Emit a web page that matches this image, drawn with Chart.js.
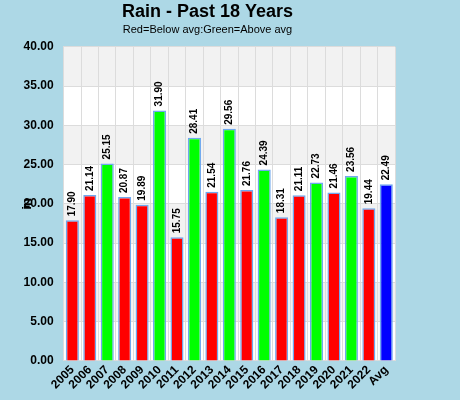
<!DOCTYPE html>
<html><head>
<script src="https://cdn.jsdelivr.net/npm/chart.js@4"></script>
<style>body{margin:0;background:#add8e6}#w{width:460px;height:400px}</style>
</head><body><div id="w"><canvas id="c"></canvas></div>
<script>
const years = ['2005','2006','2007','2008','2009','2010','2011','2012','2013','2014','2015','2016','2017','2018','2019','2020','2021','2022','Avg'];
const rain = [17.90,21.14,25.15,20.87,19.89,31.90,15.75,28.41,21.54,29.56,21.76,24.39,18.31,21.11,22.73,21.46,23.56,19.44,22.49];
const avg = 22.49;
const colors = rain.map((v,i) => i == rain.length-1 ? '#0000ff' : (v < avg ? '#ff0000' : '#00ff00'));
const F = 'Liberation Sans, Arial, sans-serif';

const deco = {
  id: 'deco',
  beforeDraw(ch) {
    const c = ch.ctx, a = ch.chartArea, y = ch.scales.y;
    c.save();
    c.fillStyle = '#add8e6';
    c.fillRect(0, 0, ch.width, ch.height);
    for (let v = 0; v < 40; v += 5) {
      c.fillStyle = (v / 5) % 2 ? '#f2f2f2' : '#ffffff';
      c.fillRect(a.left, y.getPixelForValue(v + 5), a.right - a.left, y.getPixelForValue(v) - y.getPixelForValue(v + 5));
    }
    c.restore();
  },
  afterDatasetsDraw(ch) {
    const c = ch.ctx;
    c.save();
    c.font = 'bold 10px ' + F;
    c.fillStyle = '#000';
    c.textAlign = 'left';
    c.textBaseline = 'middle';
    ch.getDatasetMeta(0).data.forEach((b, i) => {
      c.save();
      c.translate(b.x, b.y - 4);
      c.rotate(-Math.PI / 2);
      c.fillText(rain[i].toFixed(2), 0, 0);
      c.restore();
    });
    c.restore();
  }
};

new Chart('c', {
  type: 'bar',
  data: {
    labels: years,
    datasets: [{
      data: rain,
      backgroundColor: colors,
      borderColor: '#6fa8ef',
      borderWidth: 1.5,
      barPercentage: 0.75,
      categoryPercentage: 1
    }]
  },
  options: {
    responsive: true,
    maintainAspectRatio: false,
    animation: false,
    layout: {padding: {left: 20, right: 65, top: 0, bottom: 6}},
    plugins: {
      legend: {display: false},
      tooltip: {enabled: false},
      title: {display: true, text: 'Rain - Past 18 Years', color: '#000', font: {family: F, size: 18, weight: 'bold'}, padding: {top: 1, bottom: 0}},
      subtitle: {display: true, text: 'Red=Below avg:Green=Above avg', color: '#000', font: {family: F, size: 11}, padding: {top: 1, bottom: 10}}
    },
    scales: {
      x: {
        grid: {color: '#dcdcdc', offset: true, drawTicks: false},
        border: {color: '#dcdcdc'},
        ticks: {autoSkip: false, color: '#000', font: {family: F, size: 12, weight: 'bold'}, maxRotation: 45, minRotation: 45, padding: 2}
      },
      y: {
        min: 0, max: 40,
        grid: {color: '#dcdcdc', drawTicks: false},
        border: {color: '#dcdcdc'},
        title: {display: true, text: 'in', color: '#000', font: {family: F, size: 13, weight: 'bold'}, padding: {top: 0, bottom: -22}},
        ticks: {stepSize: 5, color: '#000', padding: 10, font: {family: F, size: 12, weight: 'bold'}, callback: v => v.toFixed(2)}
      }
    }
  },
  plugins: [deco]
});
</script></body></html>
